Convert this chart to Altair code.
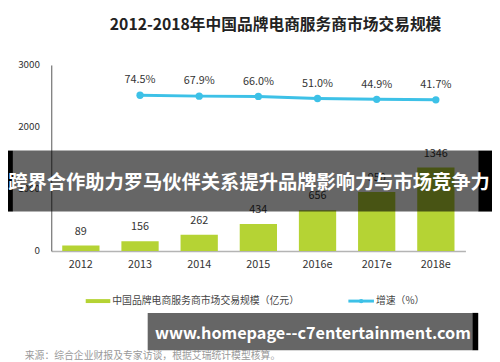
import altair as alt
import pandas as pd

# ---- data ----
years = ["2012", "2013", "2014", "2015", "2016e", "2017e", "2018e"]
scale_values = [89, 156, 262, 434, 656, 950, 1346]
growth_years = ["2013", "2014", "2015", "2016e", "2017e", "2018e"]
growth_values = [74.5, 67.9, 66.0, 51.0, 44.9, 41.7]
growth_labels = ["74.5%", "67.9%", "66.0%", "51.0%", "44.9%", "41.7%"]
y_ticks = [0, 1000, 2000, 3000]

title_text = "2012-2018年中国品牌电商服务商市场交易规模"
legend_bar = "中国品牌电商服务商市场交易规模（亿元）"
legend_line = "增速（%）"
source_text = "来源：综合企业财报及专家访谈，根据艾瑞统计模型核算。"
banner_text = "跨界合作助力罗马伙伴关系提升品牌影响力与市场竞争力"
url_text = "www.homepage--c7entertainment.com"

df_bar = pd.DataFrame({"year": years, "value": scale_values})
df_line = pd.DataFrame({"year": growth_years, "g": growth_values, "label": growth_labels})

FONT = "Noto Sans CJK SC"
GREEN = "#b5d334"
BLUE = "#3dc1e7"

xenc = alt.X("year:N", sort=years,
             scale=alt.Scale(paddingInner=0.37, paddingOuter=0.185),
             axis=alt.Axis(title=None, labelAngle=0, ticks=False, domainColor="#b4b4b4",
                           domainWidth=1.5, labelFontSize=11, labelColor="#333333",
                           labelPadding=8, labelFont=FONT))
yscale = alt.Scale(domain=[0, 3000])
gscale = alt.Scale(domain=[-1050, 293])

bars = alt.Chart(df_bar).mark_bar(color=GREEN).encode(
    x=xenc,
    y=alt.Y("value:Q", scale=yscale,
            axis=alt.Axis(title=None, values=y_ticks, format="d", ticks=False, grid=False,
                          domainColor="#555555", labelFontSize=10, labelColor="#333333",
                          labelPadding=12, labelFont=FONT)),
)
bar_text = alt.Chart(df_bar).mark_text(dy=-14, fontSize=11, color="#333333", font=FONT).encode(
    x=alt.X("year:N", sort=years), y=alt.Y("value:Q", scale=yscale, axis=None), text="value:Q"
)
line = alt.Chart(df_line).mark_line(color=BLUE, strokeWidth=3).encode(
    x=alt.X("year:N", sort=years), y=alt.Y("g:Q", scale=gscale, axis=None)
)
pts = alt.Chart(df_line).mark_point(filled=True, size=55, color=BLUE, opacity=1).encode(
    x=alt.X("year:N", sort=years), y=alt.Y("g:Q", scale=gscale, axis=None)
)
line_text = alt.Chart(df_line).mark_text(dy=-15, fontSize=11, color="#333333", font=FONT).encode(
    x=alt.X("year:N", sort=years), y=alt.Y("g:Q", scale=gscale, axis=None), text="label:N"
)

one = alt.Chart(pd.DataFrame({"k": [0]}))


def txt(s, x, y, size, color, weight="normal", align="center"):
    return one.mark_text(fontSize=size, color=color, fontWeight=weight, align=align,
                         baseline="middle", font=FONT).encode(
        x=alt.value(x), y=alt.value(y), text=alt.value(s))


def rect(x1, x2, y1, y2, color, opacity=1.0):
    return one.mark_rect(color=color, opacity=opacity).encode(
        x=alt.value(x1), x2=alt.value(x2), y=alt.value(y1), y2=alt.value(y2))


# positions relative to the plot origin (page x-52, page y-63)
title = txt(title_text, 228, -41, 16, "#222222", weight="bold")
leg_sw = rect(35, 60, 238, 242, GREEN)
leg_t1 = txt(legend_bar, 62, 240, 10, "#444444", align="left")
leg_ln = one.mark_rule(color=BLUE, strokeWidth=3).encode(
    x=alt.value(302), x2=alt.value(328), y=alt.value(240))
leg_pt = one.mark_point(filled=True, size=20, color=BLUE, opacity=1).encode(
    x=alt.value(315), y=alt.value(240))
leg_t2 = txt(legend_line, 330, 240, 10, "#444444", align="left")
src = txt(source_text, -27, 296, 10, "#999999", align="left")

ban_l = rect(-44, -39, 87, 149, "#000000")
ban_r = rect(434, 448, 87, 149, "#000000")
ban = rect(-39, 434, 87, 149, "#000000", 0.6)
ban_t = txt(banner_text, 201, 120, 19.6, "#ffffff", weight="bold")

url_bg = rect(98, 428, 252, 290, "#666666")
url_bk = rect(428, 434, 252, 290, "#000000")
url_t = txt(url_text, 266, 274, 16.5, "#ffffff", weight="bold")

chart = alt.layer(
    bars, bar_text, line, pts, line_text,
    title, leg_sw, leg_t1, leg_ln, leg_pt, leg_t2, src,
    ban_l, ban_r, ban, ban_t, url_bg, url_bk, url_t,
).resolve_scale(y="independent").properties(
    width=421, height=189,
    autosize=alt.AutoSizeParams(type="none"),
    padding={"left": 44, "top": 55, "right": 27, "bottom": 110},
    background="white",
).configure_view(stroke=None)

chart.save("out.html", embed_options={"renderer": "svg", "actions": False})
